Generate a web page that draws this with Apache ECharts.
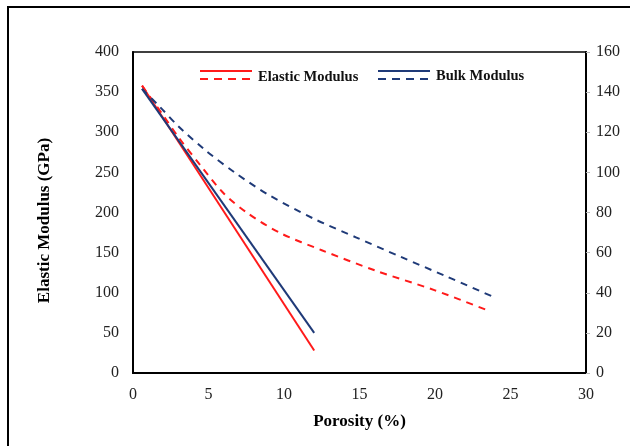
<!DOCTYPE html>
<html>
<head>
<meta charset="utf-8">
<script src="https://cdn.jsdelivr.net/npm/echarts@6/dist/echarts.min.js"></script>
<style>
  html, body { margin: 0; padding: 0; background: #fff; }
  #chart { width: 630px; height: 446px; }
</style>
</head>
<body>
<div id="chart"></div>
<script>
// elastic modulus (GPa, left axis)
const elasticLinX = [0.6, 12];
const elasticLinY = [358, 28];
const elasticCurveX = [0.6, 2, 3, 4.5, 6, 7.6, 9.8, 12.5, 16, 20, 23.5];
const elasticCurveY = [358, 321, 294, 258, 224, 199, 174, 153, 128, 103, 78];

// bulk modulus (GPa, right axis)
const bulkLinX = [0.6, 12];
const bulkLinY = [141.6, 20];
const bulkCurveX = [0.6, 1.8, 3, 4.8, 6.8, 9, 12, 14.8, 17.7, 20.8, 24];
const bulkCurveY = [141.6, 132.5, 123, 111, 99.6, 88.7, 76.8, 67.5, 58, 48, 37.5];

const RED = '#ff1a1a';
const NAVY = '#1f3a78';
const FONT = 'Liberation Serif';

const pairs = (xs, ys) => xs.map((x, i) => [x, ys[i]]);

const chart = echarts.init(document.getElementById('chart'));

const legendLine = (x, y, color, dashed) => ({
  type: 'line',
  shape: { x1: x, y1: y, x2: x + 52, y2: y },
  style: { stroke: color, lineWidth: 2, lineDash: dashed ? [8, 6] : null }
});

const option = {
  backgroundColor: '#fff',
  animation: false,
  grid: {
    left: 133, right: 44, top: 52, bottom: 73,
    show: true, borderColor: '#000', borderWidth: 1.5
  },
  xAxis: {
    type: 'value', min: 0, max: 30, interval: 5,
    name: 'Porosity (%)', nameLocation: 'middle', nameGap: 40,
    nameTextStyle: { fontFamily: FONT, fontWeight: 'bold', fontSize: 17, color: '#000' },
    axisLine: { lineStyle: { color: '#000', width: 2 } },
    axisTick: { show: false },
    splitLine: { show: false },
    axisLabel: { fontFamily: FONT, fontSize: 16, color: '#222', margin: 14 }
  },
  yAxis: [
    {
      type: 'value', min: 0, max: 400, interval: 50,
      name: 'Elastic Modulus (GPa)', nameLocation: 'middle', nameGap: 80,
      nameTextStyle: { fontFamily: FONT, fontWeight: 'bold', fontSize: 17, color: '#000', padding: [0, 16, 0, 0] },
      axisLine: { show: true, lineStyle: { color: '#000', width: 2 } },
      axisTick: { show: false },
      splitLine: { show: false },
      axisLabel: { fontFamily: FONT, fontSize: 16, color: '#222', margin: 14 }
    },
    {
      type: 'value', min: 0, max: 160, interval: 20,
      position: 'right',
      axisLine: { show: true, lineStyle: { color: '#000', width: 2 } },
      axisTick: { show: true, length: 4, lineStyle: { color: '#bbb' } },
      splitLine: { show: false },
      axisLabel: { fontFamily: FONT, fontSize: 16, color: '#222', margin: 10 }
    }
  ],
  series: [
    {
      name: 'Elastic Modulus', type: 'line', yAxisIndex: 0, showSymbol: false,
      data: pairs(elasticLinX, elasticLinY),
      lineStyle: { color: RED, width: 2 }
    },
    {
      name: 'Elastic Modulus (curve)', type: 'line', yAxisIndex: 0, showSymbol: false, smooth: 0.3,
      data: pairs(elasticCurveX, elasticCurveY),
      lineStyle: { color: RED, width: 2, type: [7, 6] }
    },
    {
      name: 'Bulk Modulus', type: 'line', yAxisIndex: 1, showSymbol: false,
      data: pairs(bulkLinX, bulkLinY),
      lineStyle: { color: NAVY, width: 2 }
    },
    {
      name: 'Bulk Modulus (curve)', type: 'line', yAxisIndex: 1, showSymbol: false, smooth: 0.3,
      data: pairs(bulkCurveX, bulkCurveY),
      lineStyle: { color: NAVY, width: 2, type: [7, 6] }
    }
  ],
  graphic: [
    // frame (left + top only, like the cropped original)
    { type: 'line', shape: { x1: 8, y1: 7, x2: 8, y2: 446 }, style: { stroke: '#000', lineWidth: 2 } },
    { type: 'line', shape: { x1: 7, y1: 7, x2: 630, y2: 7 }, style: { stroke: '#000', lineWidth: 2 } },
    // legend
    legendLine(200, 71, RED, false),
    legendLine(200, 79, RED, true),
    { type: 'text', x: 258, y: 77, style: { text: 'Elastic Modulus', fontFamily: FONT, fontWeight: 'bold', fontSize: 14.5, fill: '#111', verticalAlign: 'middle' } },
    legendLine(378, 71, NAVY, false),
    legendLine(378, 79, NAVY, true),
    { type: 'text', x: 436, y: 76, style: { text: 'Bulk Modulus', fontFamily: FONT, fontWeight: 'bold', fontSize: 14.5, fill: '#111', verticalAlign: 'middle' } }
  ]
};

chart.setOption(option);
</script>
</body>
</html>
